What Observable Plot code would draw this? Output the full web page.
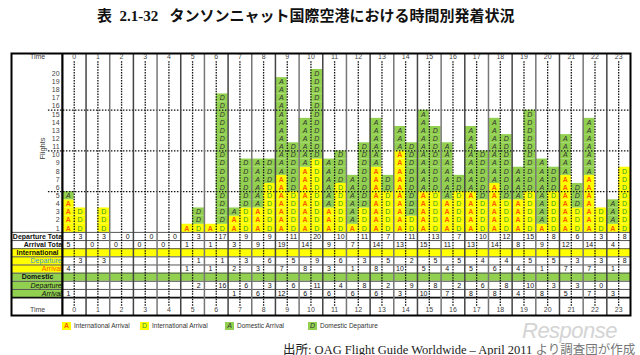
<!DOCTYPE html>
<html><head><meta charset="utf-8">
<script src="https://cdn.jsdelivr.net/npm/d3@7"></script>
<script src="https://cdn.jsdelivr.net/npm/@observablehq/plot@0.6"></script>
<style>
body{margin:0;background:#fff;width:640px;height:355px;position:relative;overflow:hidden;font-family:"Liberation Sans",Arial,sans-serif;}
#title{position:absolute;left:97px;top:4px;font:bold 15px "Liberation Serif","Noto Sans CJK JP",serif;white-space:pre;color:#111;}
#chart{position:absolute;left:0;top:40px;}
#legend{position:absolute;left:0;top:322px;width:640px;height:10px;}
.sw{position:absolute;top:0;width:9px;height:8px;font-size:7px;line-height:8px;text-align:center;}
.lt{position:absolute;top:0;font-size:6.5px;line-height:8px;color:#333;white-space:nowrap;}
#source{position:absolute;left:283px;top:339px;font:12.5px "Liberation Serif","Noto Sans CJK JP",serif;color:#222;white-space:pre;}
#source .g{color:#777;}
#wm{position:absolute;left:522px;top:318px;font:italic 22px "Liberation Sans",Arial,sans-serif;color:#d4d4d4;letter-spacing:-0.5px;}
</style></head>
<body>
<div id="title">表  2.1-32   タンソンニャット国際空港における時間別発着状況</div>
<div id="chart"></div>
<div id="legend"></div>
<div id="wm">Response</div>
<div id="source">出所: OAG Flight Guide Worldwide – April 2011 <span class="g">より調査団が作成</span></div>
<script>
const hours = [0,1,2,3,4,5,6,7,8,9,10,11,12,13,14,15,16,17,18,19,20,21,22,23];
const flightTicks = [1,2,3,4,5,6,7,8,9,10,11,12,13,14,15,16,17,18,19,20];
const intlArr = [4,null,null,null,null,1,1,2,3,7,8,3,1,8,10,5,4,5,6,4,1,7,7,1];
const intlDep = [3,3,null,null,null,1,1,3,6,5,9,6,3,5,2,5,5,4,4,5,5,3,3,8];
const domArr  = [1,null,null,null,null,null,null,1,6,12,6,6,6,6,3,10,7,8,8,4,8,5,7,3];
const domDep  = [null,null,null,null,null,2,16,6,3,6,11,4,8,2,9,8,2,6,8,10,3,3,0,null];
const arrTotal = [5,0,0,0,0,1,1,3,9,19,14,9,7,14,13,15,11,13,14,8,9,12,14,4];
const depTotal = [3,3,0,0,0,3,17,9,9,11,20,10,11,7,11,13,7,10,12,15,8,6,3,8];
const legendLetters = ["A","D","A","D"];
const legendLabels = ["International Arrival","International Arrival","Domestic Arrival","Domestic Departure"];

const YEL = "#ffff00", GRN = "#92d050";

const cells = [];
hours.forEach((h, i) => {
  const ia = intlArr[i] ?? 0, da = domArr[i] ?? 0;
  for (let k = 1; k <= ia + da; k++) cells.push({x1: h, x2: h + 0.5, y: k, kind: k <= ia ? "IA" : "DA", letter: "A"});
  const id = intlDep[i] ?? 0, dd = domDep[i] ?? 0;
  for (let k = 1; k <= id + dd; k++) cells.push({x1: h + 0.5, x2: h + 1, y: k, kind: k <= id ? "ID" : "DD", letter: "D"});
});

const tableRows = [
  {r: 0, side: "dep", vals: depTotal},
  {r: -1, side: "arr", vals: arrTotal},
  {r: -3, side: "dep", vals: intlDep},
  {r: -4, side: "arr", vals: intlArr},
  {r: -6, side: "dep", vals: domDep},
  {r: -7, side: "arr", vals: domArr}
];
const tableVals = [];
tableRows.forEach(row => hours.forEach((h, i) => {
  const v = row.vals[i];
  if (v !== null && v !== undefined) tableVals.push({x: h + (row.side === "dep" ? 0.76 : 0.26), y: row.r, v});
}));

const XL = -2.15, XR = 24, YB = -9.7, YT = 22.46;
const bg = [
  {x1: XL, x2: XR, r: -2, fill: YEL},
  {x1: XL, x2: XR, r: -5, fill: GRN},
  {x1: XL, x2: 0, r: -3, fill: YEL},
  {x1: XL, x2: 0, r: -4, fill: YEL},
  {x1: XL, x2: 0, r: -6, fill: GRN},
  {x1: XL, x2: 0, r: -7, fill: GRN}
];
const labels = [
  {x: 0.07, r: 0, t: "Departure Total", a: "end", w: "bold", s: "normal", c: "#111"},
  {x: 0.07, r: -1, t: "Arrival Total", a: "end", w: "bold", s: "normal", c: "#111"},
  {x: -1.05, r: -2, t: "International", a: "middle", w: "bold", s: "normal", c: "#111"},
  {x: -0.03, r: -3, t: "Departure", a: "end", w: "normal", s: "normal", c: "#3a9ad9"},
  {x: -0.03, r: -4, t: "Arrival", a: "end", w: "normal", s: "normal", c: "#ff5a00"},
  {x: -1.05, r: -5, t: "Domestic", a: "middle", w: "bold", s: "normal", c: "#111"},
  {x: -0.03, r: -6, t: "Departure", a: "end", w: "normal", s: "italic", c: "#111"},
  {x: -0.03, r: -7, t: "Arrival", a: "end", w: "normal", s: "italic", c: "#111"}
];

const letterMark = (kind, color, style, weight) => Plot.text(cells.filter(d => d.kind === kind), {
  x: d => (d.x1 + d.x2) / 2, y: "y", text: "letter", fill: color, fontSize: 7, fontStyle: style, fontWeight: weight
});

const plot = Plot.plot({
  width: 640, height: 280,
  marginLeft: 11, marginRight: 10, marginTop: 13, marginBottom: 5,
  x: {type: "linear", domain: [XL, XR], axis: null},
  y: {type: "linear", domain: [YB, YT], axis: null},
  style: {fontFamily: "'Liberation Sans', Arial, sans-serif", background: "white"},
  marks: [
    Plot.rect(bg, {x1: "x1", x2: "x2", y1: d => d.r - 0.5, y2: d => d.r + 0.5, fill: d => d.fill}),
    Plot.rect(cells, {x1: "x1", x2: "x2", y1: d => d.y - 0.5, y2: d => d.y + 0.5,
      fill: d => (d.kind === "IA" || d.kind === "ID") ? YEL : GRN}),
    letterMark("IA", "#ff5a00", "normal", "bold"),
    letterMark("ID", "#2f9a2f", "normal", "normal"),
    letterMark("DA", "#333", "italic", "normal"),
    letterMark("DD", "#333", "italic", "normal"),
    ...labels.map(l => Plot.text([l], {x: "x", y: "r", text: "t", textAnchor: l.a, fontWeight: l.w, fontStyle: l.s, fill: "c", fontSize: 7})),
    Plot.rect([0, -1], {x1: 0, x2: 0.22, y1: d => d - 0.5, y2: d => d + 0.5, fill: "white"}),
    Plot.text(tableVals, {x: "x", y: "y", text: "v", fontSize: 7, fill: "#111"}),
    Plot.ruleY([0.5, -0.5, -1.5, -2.5, -3.5, -4.5, -5.5, -6.5], {x1: XL, x2: XR, stroke: "#555", strokeWidth: 1}),
    Plot.ruleY([-7.5], {x1: XL, x2: XR, stroke: "#111", strokeWidth: 1.6}),
    Plot.ruleY([5.5, 10.5, 15.5], {x1: -0.59, x2: XR, stroke: "#111", strokeWidth: 1.3, strokeDasharray: "1.5,1.5"}),
    Plot.ruleX(hours, {x: d => d + 0.5, y1: -8.55, y2: 21.6, stroke: "#111", strokeWidth: 1.3, strokeDasharray: "1.5,1.2"}),
    Plot.ruleX(hours.slice(1), {x: d => d, y1: YB, y2: YT, stroke: d => d % 2 ? "#444" : "#777", strokeWidth: 1.5}),
    Plot.ruleX([0], {y1: YB, y2: YT, stroke: "#000", strokeWidth: 2.2}),
    Plot.frame({stroke: "#000", strokeWidth: 2}),
    Plot.text(flightTicks, {x: -0.12, y: d => d, text: d => String(d), textAnchor: "end", fontSize: 7, fill: "#444"}),
    Plot.text(hours, {x: d => d + 0.5, y: 22.0, text: d => String(d), fontSize: 7, fill: "#444"}),
    Plot.text(hours, {x: d => d + 0.5, y: -9.0, text: d => String(d), fontSize: 7, fill: "#444"}),
    Plot.text(["Time"], {x: -1.05, y: 22.0, text: d => d, fontSize: 7, fill: "#444"}),
    Plot.text(["Time"], {x: -1.05, y: -9.0, text: d => d, fontSize: 7, fill: "#444"}),
    Plot.text(["Flights"], {x: -0.84, y: 10.8, text: d => d, rotate: -90, fontSize: 7.5, fill: "#444"})
  ]
});
document.getElementById("chart").appendChild(plot);

const legPos = [62, 140, 225, 308];
const legFill = [YEL, YEL, GRN, GRN];
const legColor = ["#ff5a00", "#2f9a2f", "#333", "#333"];
const leg = document.getElementById("legend");
legendLabels.forEach((lab, i) => {
  const s = document.createElement("div");
  s.className = "sw";
  s.style.left = legPos[i] + "px";
  s.style.background = legFill[i];
  s.style.color = legColor[i];
  if (i === 0) s.style.fontWeight = "bold";
  if (i >= 2) s.style.fontStyle = "italic";
  s.textContent = legendLetters[i];
  leg.appendChild(s);
  const t = document.createElement("div");
  t.className = "lt";
  t.style.left = (legPos[i] + 12) + "px";
  t.textContent = lab;
  leg.appendChild(t);
});
</script>
</body></html>
